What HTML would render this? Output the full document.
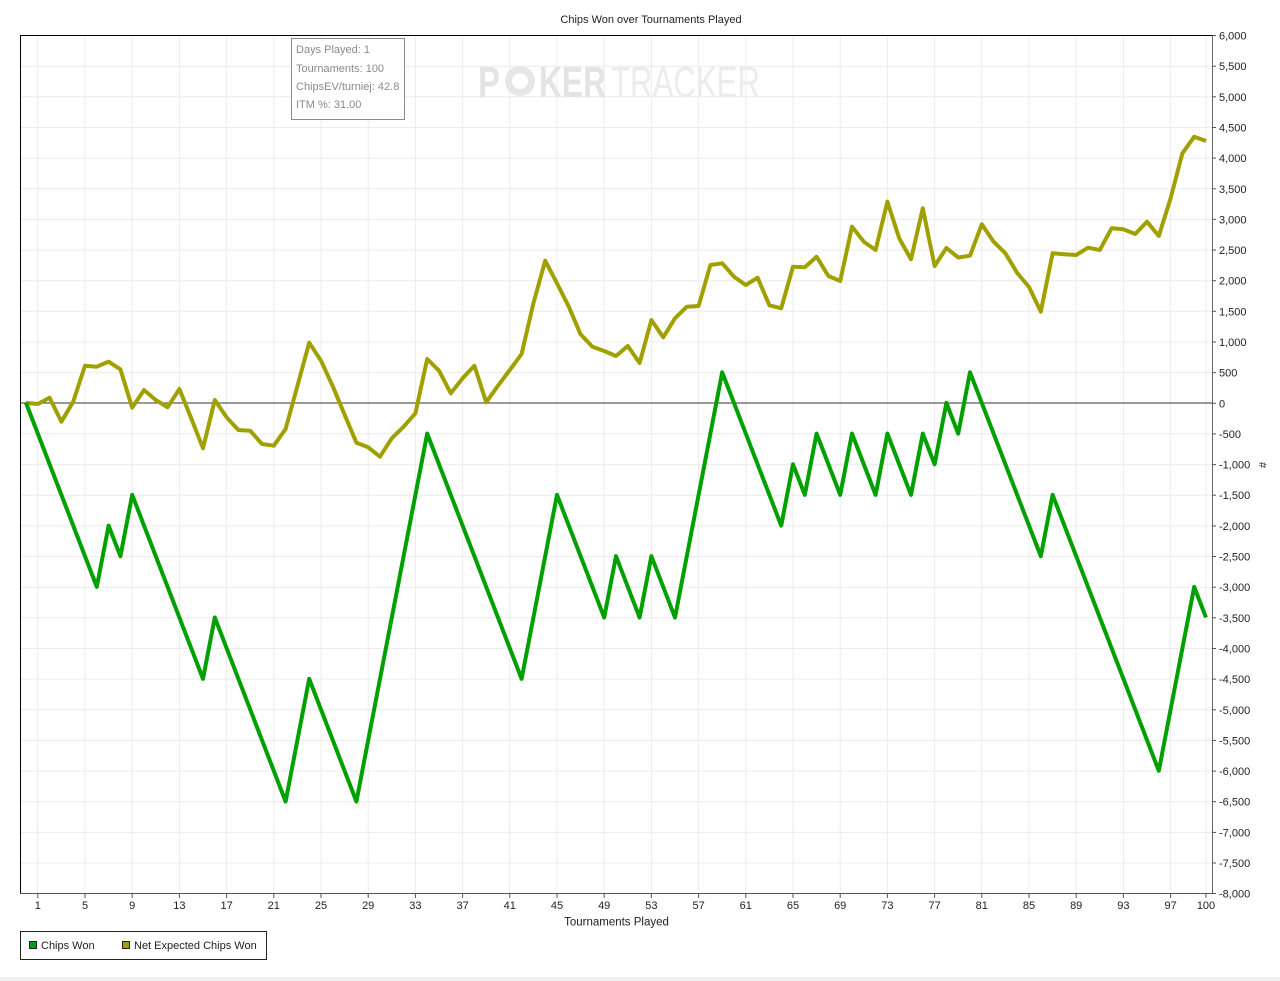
<!DOCTYPE html>
<html><head><meta charset="utf-8"><style>
html,body{margin:0;padding:0;background:#fff;}
svg{display:block;font-family:"Liberation Sans",Arial,sans-serif;}
</style></head><body>
<svg width="1280" height="981" viewBox="0 0 1280 981" xmlns="http://www.w3.org/2000/svg">
<rect x="0" y="0" width="1280" height="981" fill="#fff"/>
<rect x="0" y="977" width="1280" height="4" fill="#f0f0f0"/>
<text x="651" y="23" font-size="11" text-anchor="middle" fill="#222">Chips Won over Tournaments Played</text>

<!-- grid -->
<g stroke="#ececec" stroke-width="1">
<line x1="20" y1="35.5" x2="1212" y2="35.5"/><line x1="20" y1="66.2" x2="1212" y2="66.2"/><line x1="20" y1="96.8" x2="1212" y2="96.8"/><line x1="20" y1="127.5" x2="1212" y2="127.5"/><line x1="20" y1="158.1" x2="1212" y2="158.1"/><line x1="20" y1="188.8" x2="1212" y2="188.8"/><line x1="20" y1="219.4" x2="1212" y2="219.4"/><line x1="20" y1="250.1" x2="1212" y2="250.1"/><line x1="20" y1="280.7" x2="1212" y2="280.7"/><line x1="20" y1="311.3" x2="1212" y2="311.3"/><line x1="20" y1="342" x2="1212" y2="342"/><line x1="20" y1="372.6" x2="1212" y2="372.6"/><line x1="20" y1="433.9" x2="1212" y2="433.9"/><line x1="20" y1="464.6" x2="1212" y2="464.6"/><line x1="20" y1="495.2" x2="1212" y2="495.2"/><line x1="20" y1="525.9" x2="1212" y2="525.9"/><line x1="20" y1="556.5" x2="1212" y2="556.5"/><line x1="20" y1="587.2" x2="1212" y2="587.2"/><line x1="20" y1="617.8" x2="1212" y2="617.8"/><line x1="20" y1="648.5" x2="1212" y2="648.5"/><line x1="20" y1="679.1" x2="1212" y2="679.1"/><line x1="20" y1="709.8" x2="1212" y2="709.8"/><line x1="20" y1="740.4" x2="1212" y2="740.4"/><line x1="20" y1="771.1" x2="1212" y2="771.1"/><line x1="20" y1="801.7" x2="1212" y2="801.7"/><line x1="20" y1="832.4" x2="1212" y2="832.4"/><line x1="20" y1="863" x2="1212" y2="863"/>
<line x1="37.8" y1="35" x2="37.8" y2="893"/><line x1="85" y1="35" x2="85" y2="893"/><line x1="132.2" y1="35" x2="132.2" y2="893"/><line x1="179.4" y1="35" x2="179.4" y2="893"/><line x1="226.6" y1="35" x2="226.6" y2="893"/><line x1="273.8" y1="35" x2="273.8" y2="893"/><line x1="321" y1="35" x2="321" y2="893"/><line x1="368.2" y1="35" x2="368.2" y2="893"/><line x1="415.4" y1="35" x2="415.4" y2="893"/><line x1="462.6" y1="35" x2="462.6" y2="893"/><line x1="509.8" y1="35" x2="509.8" y2="893"/><line x1="557" y1="35" x2="557" y2="893"/><line x1="604.2" y1="35" x2="604.2" y2="893"/><line x1="651.4" y1="35" x2="651.4" y2="893"/><line x1="698.6" y1="35" x2="698.6" y2="893"/><line x1="745.8" y1="35" x2="745.8" y2="893"/><line x1="793" y1="35" x2="793" y2="893"/><line x1="840.2" y1="35" x2="840.2" y2="893"/><line x1="887.4" y1="35" x2="887.4" y2="893"/><line x1="934.6" y1="35" x2="934.6" y2="893"/><line x1="981.8" y1="35" x2="981.8" y2="893"/><line x1="1029" y1="35" x2="1029" y2="893"/><line x1="1076.2" y1="35" x2="1076.2" y2="893"/><line x1="1123.4" y1="35" x2="1123.4" y2="893"/><line x1="1170.6" y1="35" x2="1170.6" y2="893"/><line x1="1206" y1="35" x2="1206" y2="893"/>
</g>

<!-- watermark -->
<g fill="#e4e4e4" font-weight="bold" font-size="44">
<text x="478" y="97" textLength="22" lengthAdjust="spacingAndGlyphs">P</text>
<circle cx="520" cy="81" r="15" fill="#e6e6e6"/>
<circle cx="520" cy="81" r="8" fill="#fff"/>
<text x="539" y="97" textLength="67" lengthAdjust="spacingAndGlyphs">KER</text>
</g>
<text x="611" y="97" font-size="44" fill="#ececec" textLength="149" lengthAdjust="spacingAndGlyphs">TRACKER</text>

<!-- tooltip -->
<rect x="291.5" y="38.5" width="113" height="81" fill="#fff" stroke="#8c8c8c" stroke-width="1"/>
<g font-size="11" fill="#8a8a8a">
<text x="296" y="53">Days Played: 1</text>
<text x="296" y="72">Tournaments: 100</text>
<text x="296" y="90">ChipsEV/turniej: 42.8</text>
<text x="296" y="108">ITM %: 31.00</text>
</g>

<!-- zero line -->
<line x1="20" y1="403" x2="1212" y2="403" stroke="#333" stroke-width="1"/>

<!-- series -->
<polyline fill="none" stroke="#a0a000" stroke-width="4" stroke-linejoin="round" points="26,402.9 37.8,404 49.6,397.7 61.4,421.7 73.2,401.7 85,365.7 96.8,366.7 108.6,361.7 120.4,369.3 132.2,407.7 144,390 155.8,400 167.6,407.3 179.4,389 191.2,418.3 203,448.3 214.8,400 226.6,417.3 238.4,430 250.2,430.7 262,444 273.8,445.7 285.6,429 297.4,386 309.2,342.7 321,360.7 332.8,386.3 344.6,414.7 356.4,442.7 368.2,447.3 380,456.7 391.8,438.3 403.6,426.7 415.4,413.3 427.2,359 439,370.7 450.8,393.3 462.6,378.3 474.4,365.7 486.2,402.3 498,385.7 509.8,370 521.6,354 533.4,303.3 545.2,260.7 557,283.3 568.8,306.7 580.6,334.3 592.4,346.7 604.2,351 616,356 627.8,346 639.6,363 651.4,320 663.2,337.3 675,318.3 686.8,306.7 698.6,306 710.4,265 722.2,263.3 734,276.7 745.8,285 757.6,277.7 769.4,305.3 781.2,308.3 793,266.7 804.8,267.3 816.6,256.7 828.4,276 840.2,281 852,226.7 863.8,241.7 875.6,250 887.4,201.7 899.2,238.3 911,259.3 922.8,208.3 934.6,266 946.4,248 958.2,257.5 970,255.7 981.8,224.3 993.6,241.7 1005.4,253.3 1017.2,273 1029,287 1040.8,311.7 1052.6,253.3 1064.4,254.3 1076.2,255 1088,247.7 1099.8,250 1111.6,228.3 1123.4,229.3 1135.2,234 1147,221.7 1158.8,236 1170.6,198.3 1182.4,153.3 1194.2,136.7 1206,141"/>
<polyline fill="none" stroke="#00a000" stroke-width="4" stroke-linejoin="round" points="26,402.9 96.8,586.9 108.6,525.6 120.4,556.2 132.2,494.9 203,678.9 214.8,617.5 285.6,801.5 309.2,678.9 356.4,801.5 427.2,433.6 521.6,678.9 557,494.9 604.2,617.5 616,556.2 639.6,617.5 651.4,556.2 675,617.5 722.2,372.3 781.2,525.6 793,464.3 804.8,494.9 816.6,433.6 840.2,494.9 852,433.6 875.6,494.9 887.4,433.6 911,494.9 922.8,433.6 934.6,464.3 946.4,402.9 958.2,433.6 970,372.3 1040.8,556.2 1052.6,494.9 1158.8,770.8 1194.2,586.9 1206,617.5"/>

<!-- borders/axes -->
<line x1="20" y1="35.5" x2="1212" y2="35.5" stroke="#000" stroke-width="1"/>
<line x1="20.5" y1="35" x2="20.5" y2="894" stroke="#000" stroke-width="1"/>
<line x1="20" y1="893.5" x2="1213" y2="893.5" stroke="#555" stroke-width="1"/>
<line x1="1212.5" y1="35" x2="1212.5" y2="894" stroke="#666" stroke-width="1"/>

<!-- y ticks -->
<g stroke="#555" stroke-width="1">
<line x1="1212" y1="35.5" x2="1216" y2="35.5"/><line x1="1212" y1="66.2" x2="1216" y2="66.2"/><line x1="1212" y1="96.8" x2="1216" y2="96.8"/><line x1="1212" y1="127.5" x2="1216" y2="127.5"/><line x1="1212" y1="158.1" x2="1216" y2="158.1"/><line x1="1212" y1="188.8" x2="1216" y2="188.8"/><line x1="1212" y1="219.4" x2="1216" y2="219.4"/><line x1="1212" y1="250.1" x2="1216" y2="250.1"/><line x1="1212" y1="280.7" x2="1216" y2="280.7"/><line x1="1212" y1="311.3" x2="1216" y2="311.3"/><line x1="1212" y1="342" x2="1216" y2="342"/><line x1="1212" y1="372.6" x2="1216" y2="372.6"/><line x1="1212" y1="403.3" x2="1216" y2="403.3"/><line x1="1212" y1="433.9" x2="1216" y2="433.9"/><line x1="1212" y1="464.6" x2="1216" y2="464.6"/><line x1="1212" y1="495.2" x2="1216" y2="495.2"/><line x1="1212" y1="525.9" x2="1216" y2="525.9"/><line x1="1212" y1="556.5" x2="1216" y2="556.5"/><line x1="1212" y1="587.2" x2="1216" y2="587.2"/><line x1="1212" y1="617.8" x2="1216" y2="617.8"/><line x1="1212" y1="648.5" x2="1216" y2="648.5"/><line x1="1212" y1="679.1" x2="1216" y2="679.1"/><line x1="1212" y1="709.8" x2="1216" y2="709.8"/><line x1="1212" y1="740.4" x2="1216" y2="740.4"/><line x1="1212" y1="771.1" x2="1216" y2="771.1"/><line x1="1212" y1="801.7" x2="1216" y2="801.7"/><line x1="1212" y1="832.4" x2="1216" y2="832.4"/><line x1="1212" y1="863" x2="1216" y2="863"/><line x1="1212" y1="893.5" x2="1216" y2="893.5"/>
</g>
<g font-size="11" fill="#222">
<text x="1219" y="39.5">6,000</text><text x="1219" y="70.2">5,500</text><text x="1219" y="100.8">5,000</text><text x="1219" y="131.5">4,500</text><text x="1219" y="162.1">4,000</text><text x="1219" y="192.8">3,500</text><text x="1219" y="223.4">3,000</text><text x="1219" y="254.1">2,500</text><text x="1219" y="284.7">2,000</text><text x="1219" y="315.3">1,500</text><text x="1219" y="346">1,000</text><text x="1219" y="376.6">500</text><text x="1219" y="407.3">0</text><text x="1219" y="437.9">-500</text><text x="1219" y="468.6">-1,000</text><text x="1219" y="499.2">-1,500</text><text x="1219" y="529.9">-2,000</text><text x="1219" y="560.5">-2,500</text><text x="1219" y="591.2">-3,000</text><text x="1219" y="621.8">-3,500</text><text x="1219" y="652.5">-4,000</text><text x="1219" y="683.1">-4,500</text><text x="1219" y="713.8">-5,000</text><text x="1219" y="744.4">-5,500</text><text x="1219" y="775.1">-6,000</text><text x="1219" y="805.7">-6,500</text><text x="1219" y="836.4">-7,000</text><text x="1219" y="867">-7,500</text><text x="1219" y="897.5">-8,000</text>
</g>
<text x="0" y="0" font-size="11" fill="#222" transform="translate(1259,465) rotate(90)" text-anchor="middle">#</text>

<!-- x ticks -->
<g stroke="#555" stroke-width="1">
<line x1="37.8" y1="893" x2="37.8" y2="898"/><line x1="85" y1="893" x2="85" y2="898"/><line x1="132.2" y1="893" x2="132.2" y2="898"/><line x1="179.4" y1="893" x2="179.4" y2="898"/><line x1="226.6" y1="893" x2="226.6" y2="898"/><line x1="273.8" y1="893" x2="273.8" y2="898"/><line x1="321" y1="893" x2="321" y2="898"/><line x1="368.2" y1="893" x2="368.2" y2="898"/><line x1="415.4" y1="893" x2="415.4" y2="898"/><line x1="462.6" y1="893" x2="462.6" y2="898"/><line x1="509.8" y1="893" x2="509.8" y2="898"/><line x1="557" y1="893" x2="557" y2="898"/><line x1="604.2" y1="893" x2="604.2" y2="898"/><line x1="651.4" y1="893" x2="651.4" y2="898"/><line x1="698.6" y1="893" x2="698.6" y2="898"/><line x1="745.8" y1="893" x2="745.8" y2="898"/><line x1="793" y1="893" x2="793" y2="898"/><line x1="840.2" y1="893" x2="840.2" y2="898"/><line x1="887.4" y1="893" x2="887.4" y2="898"/><line x1="934.6" y1="893" x2="934.6" y2="898"/><line x1="981.8" y1="893" x2="981.8" y2="898"/><line x1="1029" y1="893" x2="1029" y2="898"/><line x1="1076.2" y1="893" x2="1076.2" y2="898"/><line x1="1123.4" y1="893" x2="1123.4" y2="898"/><line x1="1170.6" y1="893" x2="1170.6" y2="898"/><line x1="1206" y1="893" x2="1206" y2="898"/>
</g>
<g font-size="11" fill="#222" text-anchor="middle">
<text x="37.8" y="909">1</text><text x="85" y="909">5</text><text x="132.2" y="909">9</text><text x="179.4" y="909">13</text><text x="226.6" y="909">17</text><text x="273.8" y="909">21</text><text x="321" y="909">25</text><text x="368.2" y="909">29</text><text x="415.4" y="909">33</text><text x="462.6" y="909">37</text><text x="509.8" y="909">41</text><text x="557" y="909">45</text><text x="604.2" y="909">49</text><text x="651.4" y="909">53</text><text x="698.6" y="909">57</text><text x="745.8" y="909">61</text><text x="793" y="909">65</text><text x="840.2" y="909">69</text><text x="887.4" y="909">73</text><text x="934.6" y="909">77</text><text x="981.8" y="909">81</text><text x="1029" y="909">85</text><text x="1076.2" y="909">89</text><text x="1123.4" y="909">93</text><text x="1170.6" y="909">97</text><text x="1206" y="909">100</text>
</g>
<text x="616.5" y="925.5" font-size="11.5" fill="#222" text-anchor="middle">Tournaments Played</text>

<!-- legend -->
<rect x="20.5" y="931.5" width="246" height="28" fill="#fff" stroke="#222" stroke-width="1"/>
<rect x="29.5" y="941.5" width="7" height="7" fill="#00a000" stroke="#222" stroke-width="1"/>
<text x="41" y="949" font-size="11" fill="#222">Chips Won</text>
<rect x="122.5" y="941.5" width="7" height="7" fill="#a0a000" stroke="#222" stroke-width="1"/>
<text x="134" y="949" font-size="11" fill="#222">Net Expected Chips Won</text>
</svg>
</body></html>
